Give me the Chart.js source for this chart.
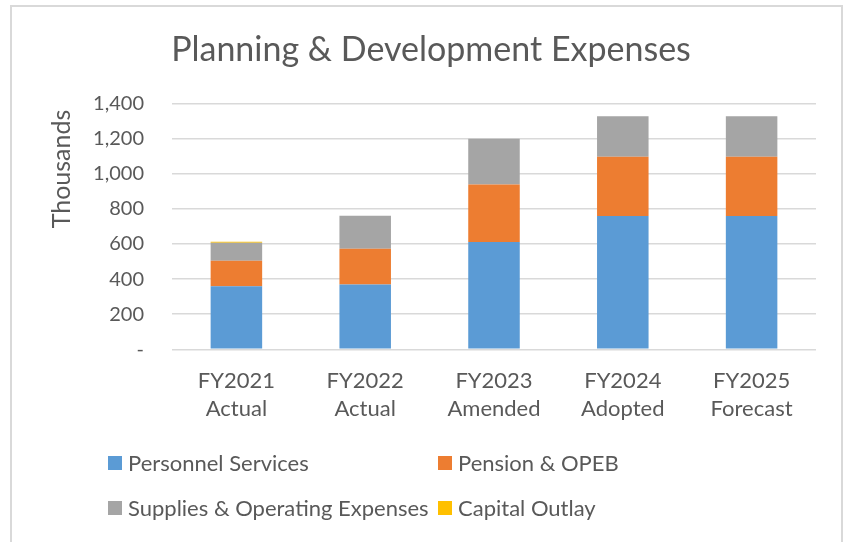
<!DOCTYPE html>
<html>
<head>
<meta charset="utf-8">
<script src="https://cdn.jsdelivr.net/npm/chart.js@4"></script>
<style>
  body { margin: 0; background: #fff; }
  #wrap { position: relative; width: 849px; height: 542px; overflow: hidden; }
  #frame { position: absolute; left: 10px; top: 5px; width: 833px; height: 560px; border: 2px solid #d9d9d9; box-sizing: border-box; }
  canvas { position: absolute; left: 0; top: 0; }
  #legend { position: absolute; left: 108px; top: 440px; display: grid; grid-template-columns: 330px auto; grid-auto-rows: 45px; font-family: Lato, sans-serif; font-size: 22px; color: #595959; }
  .item { display: flex; align-items: center; }
  .box { width: 14px; height: 14px; margin-right: 6px; }
</style>
</head>
<body>
<div id="wrap">
  <div id="frame"></div>
  <canvas id="myChart" width="849" height="542"></canvas>
  <div id="legend"></div>
</div>
<script>
const categories = [['FY2021', 'Actual'], ['FY2022', 'Actual'], ['FY2023', 'Amended'], ['FY2024', 'Adopted'], ['FY2025', 'Forecast']]
const personnel = [360, 370, 611, 760, 760]
const pension = [145, 203, 329, 337, 337]
const supplies = [102, 188, 260, 231, 231]
const capital = [6, 0, 0, 0, 0]
const seriesNames = ['Personnel Services', 'Pension & OPEB', 'Supplies & Operating Expenses', 'Capital Outlay']
const colors = ['#5B9BD5', '#ED7D31', '#A5A5A5', '#FFC000']
const yTicks = [0, 200, 400, 600, 800, 1000, 1200, 1400]

const textColor = '#595959'
const font = 'Lato, sans-serif'

const info = {
    labels: categories,
    datasets: [personnel, pension, supplies, capital].map((d, i) => ({
        label: seriesNames[i],
        data: d,
        backgroundColor: colors[i],
        borderWidth: 0,
        barPercentage: 0.4,
        categoryPercentage: 1
    }))
}

// y axis title, drawn a bit above the plot centre like the original
const yTitle = {
    id: 'yTitle',
    afterDraw(chart) {
        const ctx = chart.ctx
        ctx.save()
        ctx.translate(62, 169)
        ctx.rotate(-Math.PI / 2)
        ctx.font = '25px ' + font
        ctx.fillStyle = textColor
        ctx.textAlign = 'center'
        ctx.textBaseline = 'middle'
        ctx.fillText('Thousands', 0, 0)
        ctx.restore()
    }
}

const options = {
    responsive: false,
    animation: false,
    layout: { padding: { left: 46, right: 33, top: 0, bottom: 0 } },
    scales: {
        x: {
            stacked: true,
            grid: { display: false, drawTicks: false },
            border: { display: false },
            ticks: { color: textColor, font: { family: font, size: 22, lineHeight: 1.27 }, padding: 18, maxRotation: 0 },
            afterFit: s => { s.height = 192.7 }
        },
        y: {
            stacked: true,
            min: 0,
            max: 1400,
            afterBuildTicks: s => { s.ticks = yTicks.map(v => ({ value: v })) },
            grid: { color: '#d9d9d9', lineWidth: 1.5, drawTicks: false },
            border: { display: false },
            ticks: {
                color: textColor,
                font: { family: font, size: 20 },
                padding: 28,
                callback: v => v === 0 ? '-' : v.toLocaleString('en-US')
            },
            afterFit: s => { s.width = 126 }
        }
    },
    plugins: {
        legend: { display: false },
        tooltip: { enabled: false },
        title: {
            display: true,
            text: 'Planning & Development Expenses',
            color: textColor,
            font: { family: font, size: 34, weight: 'normal' },
            padding: { top: 29.6, bottom: 33.3 }
        }
    }
}

const myChart = new Chart(document.getElementById('myChart'), { type: 'bar', data: info, options, plugins: [yTitle] })

const legend = document.getElementById('legend')
seriesNames.forEach((name, i) => {
    const item = document.createElement('div')
    item.className = 'item'
    const box = document.createElement('span')
    box.className = 'box'
    box.style.background = colors[i]
    item.appendChild(box)
    item.appendChild(document.createTextNode(name))
    legend.appendChild(item)
})
</script>
</body>
</html>
